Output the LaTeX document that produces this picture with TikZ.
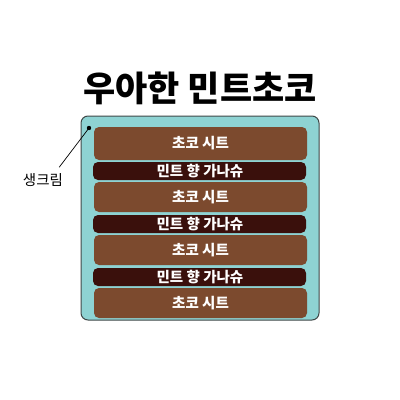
\documentclass[tikz,border=0pt]{standalone}
\usepackage{fontspec}
\setmainfont{Noto Sans CJK KR}
\begin{document}
\begin{tikzpicture}[x=1pt,y=-1pt,
  choco/.style={fill=chococol, draw=none, rounded corners=5pt},
  mint/.style={fill=mintcol, draw=none, rounded corners=5pt},
  layertext/.style={text=white, font=\fontsize{14.5}{16}\selectfont\bfseries, inner sep=0pt}]
\definecolor{tealcol}{HTML}{8ED3D3}
\definecolor{chococol}{HTML}{7C4A2E}
\definecolor{mintcol}{HTML}{3A100C}
\definecolor{edgecol}{HTML}{404848}
\useasboundingbox (0,0) rectangle (400,400);
\fill[white] (0,0) rectangle (400,400);
\node[font=\fontsize{35}{40}\selectfont\bfseries, inner sep=0pt] (title) at (200,88) {우아한 민트초코};
\draw[edgecol, fill=tealcol, line width=1pt, rounded corners=7pt] (81,116) rectangle (319,320);
% layers
\fill[choco] (94,127) rectangle (307,160);
\fill[mint]  (93,162) rectangle (306,180);
\fill[choco] (94,182) rectangle (307,212);
\fill[mint]  (93,215) rectangle (306,233);
\fill[choco] (94,235) rectangle (307,265);
\fill[mint]  (93,268) rectangle (306,286);
\fill[choco] (94,288) rectangle (307,318);
\node[layertext] (c1) at (200.5,143) {초코 시트};
\node[layertext] (m1) at (200,171) {민트 향 가나슈};
\node[layertext] (c2) at (200.5,197) {초코 시트};
\node[layertext] (m2) at (200,224) {민트 향 가나슈};
\node[layertext] (c3) at (200.5,250) {초코 시트};
\node[layertext] (m3) at (200,277) {민트 향 가나슈};
\node[layertext] (c4) at (200.5,303) {초코 시트};
% label
\node[font=\fontsize{14.5}{16}\selectfont, inner sep=0pt] (cream) at (43,180) {생크림};
\coordinate (dot) at (89,128);
\fill[black] (dot) circle (2.2);
\draw[black, line width=0.7pt] (dot) -- ([xshift=-4pt,yshift=6pt]cream.north east);
\end{tikzpicture}
\end{document}
